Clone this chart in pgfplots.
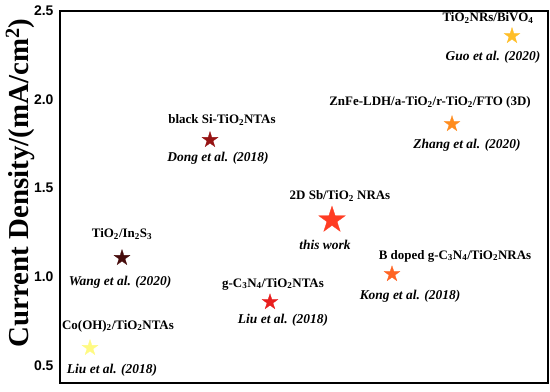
\documentclass[border=0pt]{standalone}
\usepackage{pgfplots}
\pgfplotsset{compat=1.18}
\usepackage{fontspec}
\setmainfont{Liberation Serif}
\newfontfamily\arialf{Liberation Sans}
\usetikzlibrary{calc}
\pgfdeclareplotmark{fstar}{%
  \pgfpathmoveto{\pgfqpointpolar{90}{\pgfplotmarksize}}%
  \pgfpathlineto{\pgfqpointpolar{126}{0.382\pgfplotmarksize}}%
  \pgfpathlineto{\pgfqpointpolar{162}{\pgfplotmarksize}}%
  \pgfpathlineto{\pgfqpointpolar{198}{0.382\pgfplotmarksize}}%
  \pgfpathlineto{\pgfqpointpolar{234}{\pgfplotmarksize}}%
  \pgfpathlineto{\pgfqpointpolar{270}{0.382\pgfplotmarksize}}%
  \pgfpathlineto{\pgfqpointpolar{306}{\pgfplotmarksize}}%
  \pgfpathlineto{\pgfqpointpolar{342}{0.382\pgfplotmarksize}}%
  \pgfpathlineto{\pgfqpointpolar{18}{\pgfplotmarksize}}%
  \pgfpathlineto{\pgfqpointpolar{54}{0.382\pgfplotmarksize}}%
  \pgfpathclose
  \pgfusepathqfillstroke
}
\definecolor{cCo}{RGB}{255,250,130}
\definecolor{cIn}{RGB}{70,12,12}
\definecolor{cSi}{RGB}{150,20,20}
\definecolor{cCN}{RGB}{232,30,30}
\definecolor{cSb}{RGB}{255,60,35}
\definecolor{cB}{RGB}{255,100,35}
\definecolor{cZn}{RGB}{255,140,30}
\definecolor{cBi}{RGB}{255,190,40}
\newcommand{\lab}{\fontsize{13}{15}\selectfont\bfseries}
\newcommand{\cit}{\fontsize{13.5}{15}\selectfont\bfseries\itshape}
\newcommand{\su}[1]{\textsubscript{#1}}
\begin{document}
\begin{tikzpicture}
\begin{axis}[
  scale only axis,
  width=488bp, height=372bp,
  xmin=0, xmax=488, ymin=0.4, ymax=2.5,
  xtick=\empty,
  ytick={0.5,1.0,1.5,2.0,2.5},
  major tick length=0pt,
  axis line style={line width=1.2pt},
  /pgf/number format/assume math mode=true,
  yticklabel style={font=\arialf\bfseries\fontsize{14}{14}\selectfont, xshift=-3bp,
    /pgf/number format/.cd, fixed, fixed zerofill, precision=1},
  ylabel={Current Density/(mA/cm\textsuperscript{2})},
  ylabel style={font=\fontsize{29}{31}\selectfont\bfseries,
    at={(axis description cs:-0.082,0.538)}, anchor=center},
  every axis plot/.append style={only marks, mark=fstar, mark size=8.3bp, line width=0.3pt},
  clip=false,
]
\addplot[color=cCo, fill=cCo] coordinates {(30,0.598)};
\addplot[color=cIn, fill=cIn] coordinates {(62,1.106)};
\addplot[color=cSi, fill=cSi] coordinates {(150,1.772)};
\addplot[color=cCN, fill=cCN] coordinates {(210,0.857)};
\addplot[color=cSb, fill=cSb, mark size=14bp] coordinates {(272,1.320)};
\addplot[color=cB, fill=cB] coordinates {(332,1.015)};
\addplot[color=cZn, fill=cZn] coordinates {(392,1.862)};
\addplot[color=cBi, fill=cBi] coordinates {(452,2.359)};

\node at (axis cs:58,0.722) {\lab Co(OH)\su{2}/TiO\su{2}NTAs};
\node at (axis cs:52,0.473) {\cit Liu et al. (2018)};
\node at (axis cs:62,1.241) {\lab TiO\su{2}/In\su{2}S\su{3}};
\node at (axis cs:60,0.970) {\cit Wang et al. (2020)};
\node at (axis cs:162,1.885) {\lab black Si-TiO\su{2}NTAs};
\node at (axis cs:158,1.670) {\cit Dong et al. (2018)};
\node at (axis cs:213,0.959) {\lab g-C\su{3}N\su{4}/TiO\su{2}NTAs};
\node at (axis cs:223,0.756) {\cit Liu et al. (2018)};
\node at (axis cs:280,1.456) {\lab 2D Sb/TiO\su{2} NRAs};
\node at (axis cs:265,1.179) {\cit this work};
\node at (axis cs:395,1.117) {\lab B doped g-C\su{3}N\su{4}/TiO\su{2}NRAs};
\node at (axis cs:350,0.891) {\cit Kong et al. (2018)};
\node at (axis cs:370,1.986) {\lab ZnFe-LDH/a-TiO\su{2}/r-TiO\su{2}/FTO (3D)};
\node at (axis cs:407,1.744) {\cit Zhang et al. (2020)};
\node at (axis cs:428,2.460) {\lab TiO\su{2}NRs/BiVO\su{4}};
\node at (axis cs:433,2.240) {\cit Guo et al. (2020)};
\end{axis}
\pgfresetboundingbox
\path ($(current axis.south west)+(-60bp,-9bp)$) rectangle ($(current axis.north east)+(2bp,11bp)$);
\end{tikzpicture}
\end{document}
